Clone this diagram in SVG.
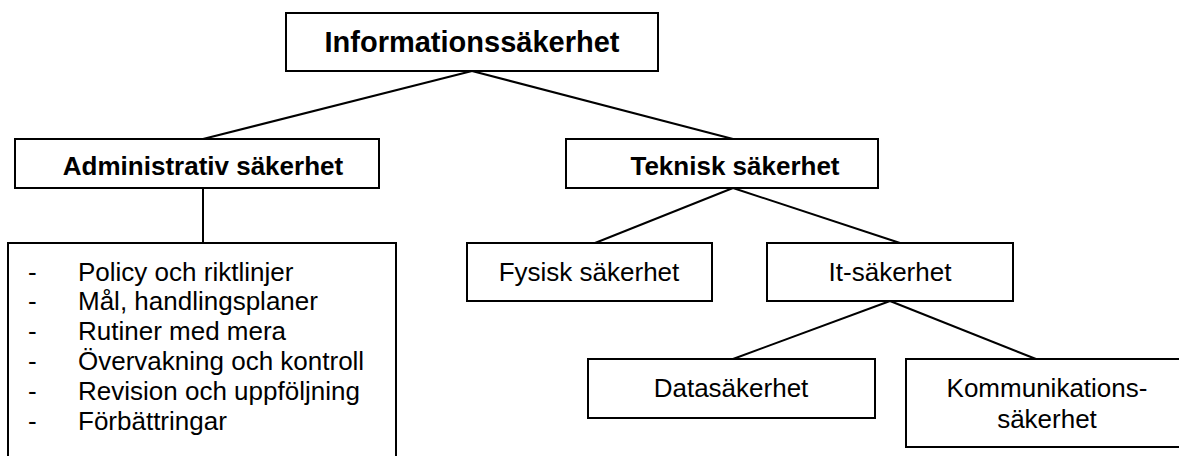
<svg xmlns="http://www.w3.org/2000/svg" width="1179" height="456" viewBox="0 0 1179 456">
<style>
.box{fill:#fff;stroke:#000;stroke-width:2}
.ln{stroke:#000;stroke-width:2;fill:none}
.b{font-family:"Liberation Sans",Arial,sans-serif;font-weight:bold;font-size:26px;fill:#000}
.r{font-family:"Liberation Sans",Arial,sans-serif;font-size:26px;fill:#000}
</style>
<rect width="1179" height="456" fill="#fff"/>
<g id="connectors">
<line class="ln" x1="472" y1="71" x2="203" y2="139"/>
<line class="ln" x1="472" y1="71" x2="733" y2="139"/>
<line class="ln" x1="203" y1="188" x2="203" y2="243"/>
<line class="ln" x1="733" y1="188" x2="595" y2="243"/>
<line class="ln" x1="733" y1="188" x2="900" y2="243"/>
<line class="ln" x1="890" y1="301" x2="733" y2="359"/>
<line class="ln" x1="890" y1="301" x2="1036" y2="359"/>
</g>
<g id="informationssakerhet">
<rect class="box" x="286" y="13" width="372" height="58"/>
<text class="b" x="472" y="52" text-anchor="middle" style="font-size:29px">Informationssäkerhet</text>
</g>
<g id="administrativ">
<rect class="box" x="15" y="139" width="364" height="49"/>
<text class="b" x="203" y="175" text-anchor="middle">Administrativ säkerhet</text>
</g>
<g id="teknisk">
<rect class="box" x="566" y="139" width="312" height="49"/>
<text class="b" x="735" y="175" text-anchor="middle">Teknisk säkerhet</text>
</g>
<g id="lista">
<rect class="box" x="8" y="243" width="388" height="230"/>
<text class="r" x="28" y="281">-</text><text class="r" x="78" y="281">Policy och riktlinjer</text>
<text class="r" x="28" y="310">-</text><text class="r" x="78" y="310">Mål, handlingsplaner</text>
<text class="r" x="28" y="340">-</text><text class="r" x="78" y="340">Rutiner med mera</text>
<text class="r" x="28" y="370">-</text><text class="r" x="78" y="370">Övervakning och kontroll</text>
<text class="r" x="28" y="400">-</text><text class="r" x="78" y="400">Revision och uppföljning</text>
<text class="r" x="28" y="430">-</text><text class="r" x="78" y="430">Förbättringar</text>
</g>
<g id="fysisk">
<rect class="box" x="467" y="243" width="245" height="58"/>
<text class="r" x="589" y="281" text-anchor="middle">Fysisk säkerhet</text>
</g>
<g id="it">
<rect class="box" x="767" y="243" width="246" height="58"/>
<text class="r" x="890" y="281" text-anchor="middle">It-säkerhet</text>
</g>
<g id="data">
<rect class="box" x="588" y="359" width="287" height="59"/>
<text class="r" x="731" y="397" text-anchor="middle">Datasäkerhet</text>
</g>
<g id="kommunikation">
<rect class="box" x="906" y="359" width="290" height="88"/>
<text class="r" x="1047" y="397" text-anchor="middle">Kommunikations-</text>
<text class="r" x="1047" y="428" text-anchor="middle">säkerhet</text>
</g>
</svg>
